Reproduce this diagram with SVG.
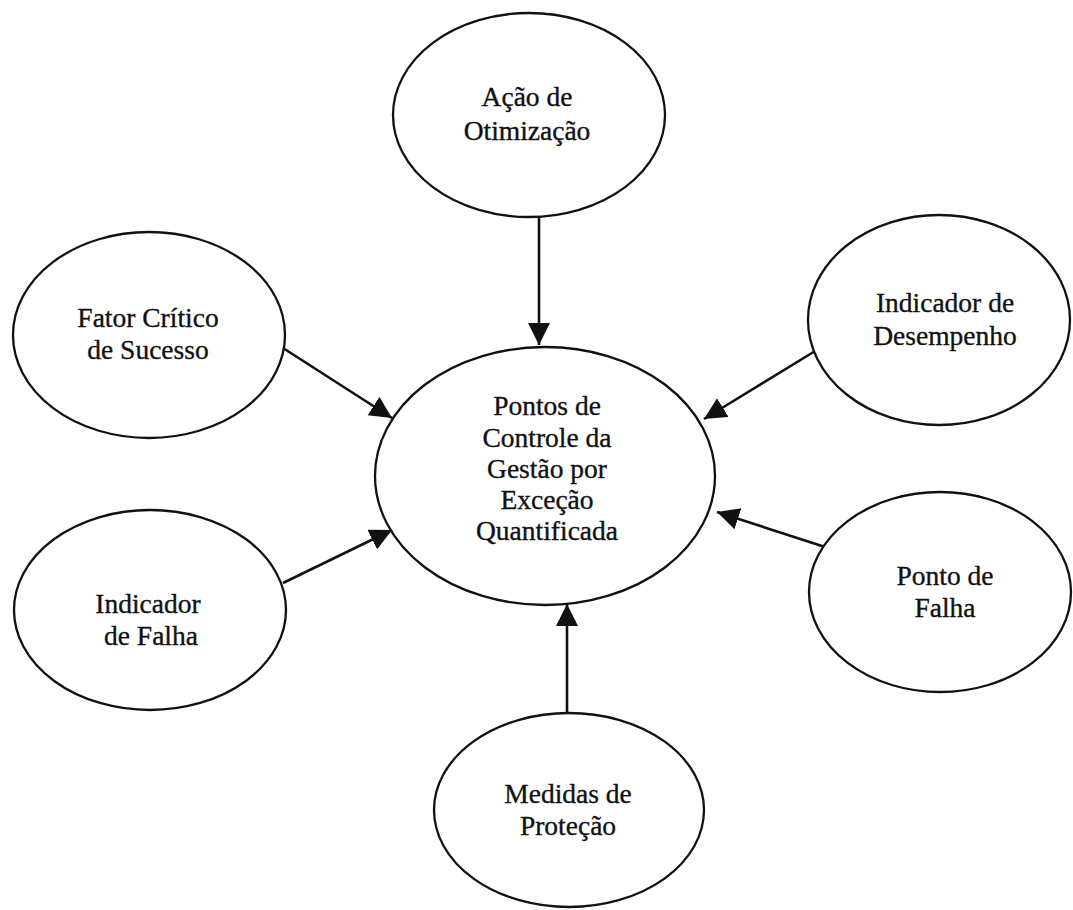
<svg xmlns="http://www.w3.org/2000/svg" width="1073" height="910" viewBox="0 0 1073 910">
<style>
.node ellipse{fill:#fff;stroke:#111;stroke-width:2.3}
.node text{font-family:"Liberation Serif","Times New Roman",serif;font-size:27.5px;fill:#111;stroke:#111;stroke-width:0.35;text-anchor:middle}
.edge{stroke:#111;stroke-width:2.6;fill:none;marker-end:url(#arr)}
</style>
<defs>
<marker id="arr" markerUnits="userSpaceOnUse" markerWidth="24" markerHeight="24" refX="22" refY="11" orient="auto">
<path d="M0,0 L22,11 L0,22 z" fill="#111"/>
</marker>
</defs>
<rect width="1073" height="910" fill="#fff"/>
<g id="connectors">
<line class="edge" x1="539" y1="216" x2="539" y2="345"/>
<line class="edge" x1="283" y1="348" x2="392" y2="418"/>
<line class="edge" x1="825" y1="345" x2="704" y2="419"/>
<line class="edge" x1="283" y1="583" x2="392" y2="530"/>
<line class="edge" x1="825" y1="547" x2="717" y2="512"/>
<line class="edge" x1="567" y1="713" x2="567" y2="604"/>
</g>
<g id="center" class="node">
<ellipse cx="545" cy="476" rx="170" ry="129"/>
<text x="547" y="415">Pontos de</text>
<text x="547" y="447">Controle da</text>
<text x="547" y="478">Gestão por</text>
<text x="547" y="509">Exceção</text>
<text x="547" y="540">Quantificada</text>
</g>
<g id="acao" class="node">
<ellipse cx="529" cy="115" rx="136" ry="102"/>
<text x="527" y="106">Ação de</text>
<text x="527" y="140">Otimização</text>
</g>
<g id="fator" class="node">
<ellipse cx="149" cy="335" rx="136" ry="103"/>
<text x="148" y="327">Fator Crítico</text>
<text x="148" y="359">de Sucesso</text>
</g>
<g id="desempenho" class="node">
<ellipse cx="939" cy="320" rx="131" ry="105"/>
<text x="945" y="312">Indicador de</text>
<text x="945" y="345">Desempenho</text>
</g>
<g id="indfalha" class="node">
<ellipse cx="150" cy="610" rx="136" ry="100"/>
<text x="148" y="613">Indicador</text>
<text x="151" y="645">de Falha</text>
</g>
<g id="pontofalha" class="node">
<ellipse cx="940" cy="592" rx="131" ry="100"/>
<text x="945" y="585">Ponto de</text>
<text x="945" y="617">Falha</text>
</g>
<g id="medidas" class="node">
<ellipse cx="569" cy="810" rx="135" ry="97"/>
<text x="568" y="803">Medidas de</text>
<text x="568" y="835">Proteção</text>
</g>
</svg>
